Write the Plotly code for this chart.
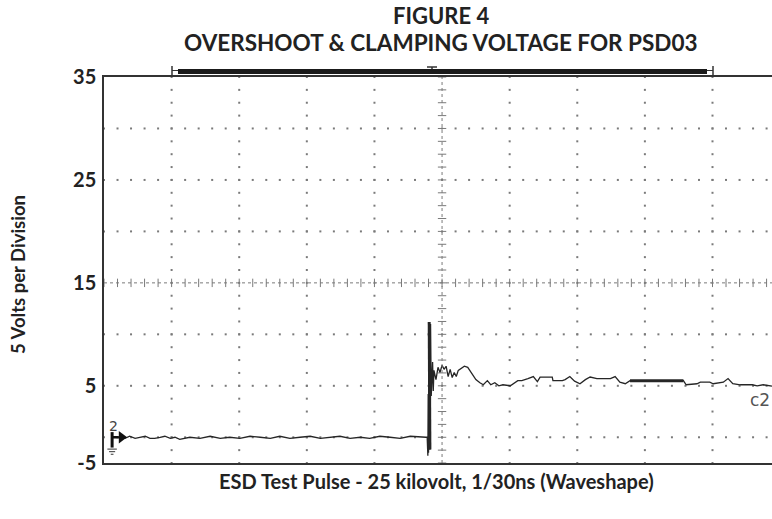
import numpy as np
import plotly.graph_objects as go

# ---- data (x in screen divisions, y in volts) ----
base_t = [0.21, 0.31, 0.38, 0.46, 0.53, 0.61, 0.68, 0.75, 0.83, 0.90, 0.98, 1.05, 1.12,
          1.27, 1.42, 1.57, 1.72, 1.86, 2.01, 2.16, 2.31, 2.46, 2.60, 2.75, 2.90, 3.05,
          3.20, 3.34, 3.49, 3.64, 3.79, 3.93, 4.08, 4.23, 4.38, 4.53, 4.67, 4.76]
base_v = [0.0, -0.1, 0.1, -0.1, 0.0, 0.1, -0.1, -0.1, 0.0, 0.1, -0.1, 0.0, -0.2,
          0.0, -0.1, 0.1, -0.1, 0.0, -0.1, 0.1, 0.0, -0.1, 0.1, -0.1, 0.0, 0.1,
          -0.1, 0.0, 0.1, -0.1, 0.0, -0.1, 0.1, 0.0, -0.1, 0.1, 0.0, 0.0]

pulse_t = [4.78, 4.79, 4.795, 4.80, 4.81, 4.82, 4.83, 4.84, 4.86, 4.87, 4.88,
           4.91, 4.94, 4.97, 5.00, 5.03, 5.06, 5.09, 5.12, 5.15, 5.18, 5.21, 5.24,
           5.28, 5.33, 5.38, 5.44, 5.50, 5.56, 5.61, 5.67, 5.72, 5.78, 5.84, 5.90,
           6.01, 6.12, 6.18, 6.27, 6.35, 6.41, 6.45, 6.63, 6.64, 6.78, 6.82, 6.89,
           6.96, 7.04, 7.12, 7.19, 7.29, 7.49, 7.56, 7.63, 7.71, 7.78]
pulse_v = [0.0, -1.8, 4.2, -1.5, 11.2, -1.2, 11.0, 4.0, 7.3, 4.5, 6.5,
           5.6, 6.8, 6.3, 7.0, 6.6, 6.9, 5.9, 6.6, 5.8, 6.3, 5.9, 6.5,
           6.7, 6.9, 6.8, 6.2, 5.6, 5.3, 5.1, 5.5, 5.1, 5.3, 5.0, 5.1,
           5.0, 5.5, 5.5, 5.7, 5.9, 5.4, 5.85, 5.85, 5.5, 5.5, 5.6, 5.9,
           5.45, 5.2, 5.6, 5.85, 5.7, 5.7, 5.9, 5.35, 5.2, 5.5]

tail_t = [8.57, 8.61, 8.77, 8.82, 8.96, 9.01, 9.16, 9.23, 9.30, 9.41, 9.59, 9.66, 9.75, 9.88]
tail_v = [5.5, 5.1, 5.2, 5.35, 5.35, 5.2, 5.35, 5.7, 5.2, 5.1, 5.1, 5.0, 5.1, 4.97]

thick_t = [7.78, 8.57]
thick_v = [5.5, 5.5]
spike_t = [4.81, 4.82]
spike_v = [11.2, -1.2]

y_tickvals = [35, 25, 15, 5, -2.5]
y_ticktext = ["35", "25", "15", "5", "-5"]

X_MAX = 9.88
Y_MIN, Y_MAX = -2.5, 35
FONT = "Lato"
TRACE = "#262626"
GRID = "#7a7a7a"
TXT = "#222"

fig = go.Figure()

# ---- graticule ----
minor_x = np.round(np.arange(0, X_MAX + 1e-9, 0.2), 3)
minor_y = np.arange(-2.5, 35.01, 1.25)
rows = [30, 25, 20, 10, 5, 0]
cols = [1, 2, 3, 4, 6, 7, 8, 9]
gx, gy = [], []
for r in rows:
    gx += list(minor_x); gy += [r] * len(minor_x)
for c in cols:
    gx += [c] * len(minor_y); gy += list(minor_y)
fig.add_trace(go.Scatter(x=gx, y=gy, mode="markers", hoverinfo="skip",
                         marker=dict(symbol="square", size=2, color=GRID, line_width=0)))
# centre crosshair
fig.add_shape(type="line", x0=0, x1=X_MAX, y0=15, y1=15, xref="x", yref="y",
              line=dict(color=GRID, width=1, dash="dot"))
fig.add_shape(type="line", x0=5, x1=5, y0=Y_MIN, y1=Y_MAX, xref="x", yref="y",
              line=dict(color=GRID, width=1, dash="dot"))
fig.add_trace(go.Scatter(x=list(minor_x), y=[15] * len(minor_x), mode="markers", hoverinfo="skip",
                         marker=dict(symbol="line-ns", size=6, color=GRID, line=dict(width=1, color=GRID))))
fig.add_trace(go.Scatter(x=[5] * len(minor_y), y=list(minor_y), mode="markers", hoverinfo="skip",
                         marker=dict(symbol="line-ew", size=6, color=GRID, line=dict(width=1, color=GRID))))

# ---- waveform ----
wave_t = base_t + pulse_t + tail_t
wave_v = base_v + pulse_v + tail_v
fig.add_trace(go.Scatter(x=wave_t, y=wave_v, mode="lines", hoverinfo="skip",
                         line=dict(color=TRACE, width=1.3)))
fig.add_trace(go.Scatter(x=thick_t + [None] + spike_t, y=thick_v + [None] + spike_v,
                         mode="lines", hoverinfo="skip", line=dict(color=TRACE, width=3)))

# ---- channel marker on the left ----
fig.add_shape(type="line", x0=0.12, x1=0.22, y0=0, y1=0, xref="x", yref="y",
              line=dict(color="#111", width=2.5))
fig.add_shape(type="line", x0=0.12, x1=0.12, y0=0.5, y1=-1.0, xref="x", yref="y",
              line=dict(color="#111", width=3))
for yy, hw in [(-1.15, 0.07), (-1.4, 0.045), (-1.65, 0.02)]:
    fig.add_shape(type="line", x0=0.12 - hw, x1=0.12 + hw, y0=yy, y1=yy, xref="x", yref="y",
                  line=dict(color="#333", width=1))
fig.add_trace(go.Scatter(x=[0.26], y=[0], mode="markers", hoverinfo="skip",
                         marker=dict(symbol="triangle-right", size=11, color="#111")))
fig.add_annotation(x=0.14, y=1.1, xref="x", yref="y", text="2", showarrow=False,
                   font=dict(family="DejaVu Sans", size=14, color="#444"))
fig.add_annotation(x=X_MAX, y=3.6, xref="x", yref="y", text="c2", showarrow=False,
                   xanchor="right", yanchor="middle",
                   font=dict(family="DejaVu Sans", size=17, color="#555"))

# ---- record bar above the graticule (paper coords) ----
def py(p):
    return (463 - p) / 386

def px(p):
    return (p - 104) / 668

fig.add_shape(type="rect", xref="paper", yref="paper", x0=px(178), x1=px(707), y0=py(74), y1=py(69),
              fillcolor="#1a1a1a", line_width=0)
fig.add_shape(type="line", xref="paper", yref="paper", x0=px(172), x1=px(178), y0=py(70.5), y1=py(70.5),
              line=dict(color="#333", width=1))
fig.add_shape(type="line", xref="paper", yref="paper", x0=px(707), x1=px(713), y0=py(70.5), y1=py(70.5),
              line=dict(color="#333", width=1))
for xx in (172, 713):
    fig.add_shape(type="line", xref="paper", yref="paper", x0=px(xx), x1=px(xx), y0=py(75), y1=py(66),
                  line=dict(color="#333", width=1.5))
fig.add_shape(type="line", xref="paper", yref="paper", x0=px(427), x1=px(437), y0=py(67), y1=py(67),
              line=dict(color="#333", width=1.5))
fig.add_shape(type="line", xref="paper", yref="paper", x0=px(432), x1=px(432), y0=py(69), y1=py(67),
              line=dict(color="#333", width=1.5))

# ---- titles ----
def label(x, y, text, size, angle=0):
    fig.add_annotation(x=px(x), y=py(y), xref="paper", yref="paper", text=text, showarrow=False,
                       xanchor="center", yanchor="middle", textangle=angle,
                       font=dict(family=FONT, size=size, color=TXT, weight="bold"))

label(441, 15, "FIGURE 4", 22)
label(441, 43, "OVERSHOOT &amp; CLAMPING VOLTAGE FOR PSD03", 22.5)
label(436, 481, "ESD Test Pulse - 25 kilovolt, 1/30ns (Waveshape)", 20)
label(18, 275, "5 Volts per Division", 18.5, angle=-90)

fig.update_layout(
    width=772, height=519,
    margin=dict(l=104, r=0, t=77, b=56),
    paper_bgcolor="white", plot_bgcolor="white",
    showlegend=False,
    xaxis=dict(range=[0, X_MAX], showgrid=False, zeroline=False, showticklabels=False,
               ticks="", showline=True, mirror=True, linecolor="#333", linewidth=1.5,
               fixedrange=True),
    yaxis=dict(range=[Y_MIN, Y_MAX], showgrid=False, zeroline=False,
               tickvals=y_tickvals, ticktext=y_ticktext, ticks="",
               ticklabelstandoff=2,
               tickfont=dict(family=FONT, size=20, color=TXT, weight="bold"),
               showline=True, linecolor="#333", linewidth=1.5, fixedrange=True),
)

fig.write_html("out.html", config={"displayModeBar": False},
               post_script="document.body.style.margin='0';")
